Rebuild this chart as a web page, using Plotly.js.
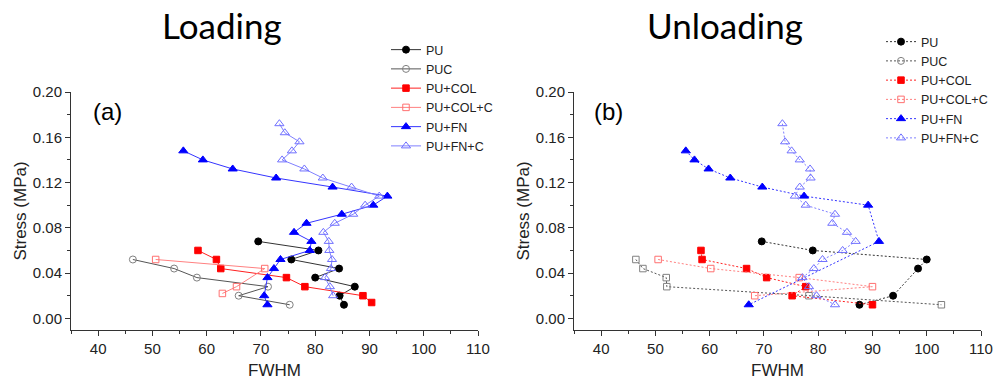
<!DOCTYPE html>
<html>
<head>
<meta charset="utf-8">
<script src="https://cdn.plot.ly/plotly-3.0.1.min.js"></script>
<style>html,body{margin:0;padding:0;background:#fff;}#chart{width:995px;height:384px;}</style>
</head>
<body>
<div id="chart"></div>
<script>
// ---------- Loading (a) ----------
var PU_L_x   = [69.5, 80.6, 75.6, 84.4, 80.0, 87.3, 84.5, 85.3];
var PU_L_y   = [0.068, 0.060, 0.052, 0.044, 0.036, 0.028, 0.020, 0.012];
var PUC_L_x  = [46.4, 54.0, 58.2, 71.3, 65.9, 75.3];
var PUC_L_y  = [0.052, 0.044, 0.036, 0.028, 0.020, 0.012];
var COL_L_x  = [58.4, 61.8, 62.6, 74.7, 78.1, 88.8, 90.4];
var COL_L_y  = [0.060, 0.052, 0.044, 0.036, 0.028, 0.020, 0.014];
var COLC_L_x = [50.6, 70.7, 65.5, 62.9];
var COLC_L_y = [0.052, 0.044, 0.028, 0.022];
var FN_L_x   = [55.7, 59.3, 64.8, 72.8, 83.2, 93.3, 90.7, 84.9, 78.4, 76.1, 79.3, 79.0, 73.6, 72.4, 71.2, 70.6, 71.2];
var FN_L_y   = [0.148, 0.140, 0.132, 0.124, 0.116, 0.108, 0.100, 0.092, 0.084, 0.076, 0.068, 0.060, 0.052, 0.044, 0.036, 0.020, 0.012];
var FNC_L_x  = [73.4, 74.4, 77.1, 75.7, 73.9, 78.0, 81.4, 86.7, 91.8, 89.2, 87.0, 83.6, 81.5, 82.5, 82.6, 83.1, 82.9, 81.8, 82.7, 83.3];
var FNC_L_y  = [0.172, 0.164, 0.156, 0.148, 0.140, 0.132, 0.124, 0.116, 0.108, 0.100, 0.092, 0.084, 0.076, 0.068, 0.060, 0.052, 0.044, 0.036, 0.028, 0.020];

// ---------- Unloading (b) ----------
var PU_U_x   = [69.6, 79.0, 100.0, 98.4, 93.8, 87.6];
var PU_U_y   = [0.068, 0.060, 0.052, 0.044, 0.020, 0.012];
var PUC_U_x  = [46.4, 47.7, 52.0, 52.1, 78.3, 102.7];
var PUC_U_y  = [0.052, 0.044, 0.036, 0.028, 0.020, 0.012];
var COL_U_x  = [58.4, 58.6, 66.8, 70.5, 77.7, 75.2, 90.0];
var COL_U_y  = [0.060, 0.052, 0.044, 0.036, 0.028, 0.020, 0.012];
var COLC_U_x = [50.5, 60.2, 76.5, 90.0, 68.3];
var COLC_U_y = [0.052, 0.044, 0.036, 0.028, 0.020];
var FN_U_x   = [55.6, 57.2, 59.8, 63.8, 69.7, 77.4, 89.2, 91.2, 67.2];
var FN_U_y   = [0.148, 0.140, 0.132, 0.124, 0.116, 0.108, 0.100, 0.068, 0.012];
var FNC_U_x  = [73.4, 73.9, 75.1, 76.6, 78.5, 78.6, 76.6, 75.7, 77.7, 83.1, 82.6, 85.3, 86.9, 84.5, 80.8, 79.2, 77.1, 78.3, 79.7, 83.1];
var FNC_U_y  = [0.172, 0.156, 0.148, 0.140, 0.132, 0.124, 0.116, 0.108, 0.100, 0.092, 0.084, 0.076, 0.068, 0.060, 0.052, 0.044, 0.036, 0.028, 0.020, 0.012];

var seriesNames = ['PU', 'PUC', 'PU+COL', 'PU+COL+C', 'PU+FN', 'PU+FN+C'];
var panelTitles = ['Loading', 'Unloading'];
var panelLabels = ['(a)', '(b)'];
var xTickVals = [40, 50, 60, 70, 80, 90, 100, 110];
var yTickVals = [0.00, 0.04, 0.08, 0.12, 0.16, 0.20];

var styles = [
  {mc: '#000000', lc: '#333333', sym: 'circle', size: 7},
  {mc: '#808080', lc: '#555555', sym: 'circle-open', size: 7},
  {mc: '#ff0000', lc: '#ff2020', sym: 'square', size: 6.5},
  {mc: '#ff7070', lc: '#ff8080', sym: 'square-open', size: 6.5},
  {mc: '#0000ff', lc: '#3535ff', sym: 'triangle-up', size: 8},
  {mc: '#7070ff', lc: '#8080ff', sym: 'triangle-up-open', size: 8}
];

function mk(x, y, i, panel, opt) {
  opt = opt || {};
  var s = styles[i];
  var sym = opt.sym || s.sym;
  return {
    type: 'scatter', mode: 'lines+markers',
    x: x, y: y, name: seriesNames[i],
    xaxis: panel === 0 ? 'x' : 'x2',
    yaxis: panel === 0 ? 'y' : 'y2',
    legend: panel === 0 ? 'legend' : 'legend2',
    showlegend: opt.showlegend !== undefined ? opt.showlegend : true,
    line: {color: s.lc, width: 1, dash: panel === 0 ? 'solid' : '2px,2px'},
    marker: {color: s.mc, symbol: sym, size: opt.size || s.size, line: {color: s.mc, width: 1}},
    hoverinfo: 'x+y+name'
  };
}

var data = [
  mk(PU_L_x, PU_L_y, 0, 0),
  mk(PUC_L_x, PUC_L_y, 1, 0),
  mk(COL_L_x, COL_L_y, 2, 0),
  mk(COLC_L_x, COLC_L_y, 3, 0),
  mk(FN_L_x, FN_L_y, 4, 0),
  mk(FNC_L_x, FNC_L_y, 5, 0),

  mk(PU_U_x, PU_U_y, 0, 1),
  mk(PUC_U_x, PUC_U_y, 1, 1, {sym: 'square-open', size: 6.5, showlegend: false}),
  mk([null], [null], 1, 1), // legend entry (reference legend shows an open circle)
  mk(COL_U_x, COL_U_y, 2, 1),
  mk(COLC_U_x, COLC_U_y, 3, 1),
  mk(FN_U_x, FN_U_y, 4, 1),
  mk(FNC_U_x, FNC_U_y, 5, 1)
];

var ML = 71, MR = 14, MT = 92, MB = 54;
var W = 995, H = 384;
var PW = W - ML - MR, PH = H - MT - MB;
function px(x) { return (x - ML) / PW; }
function py(y) { return (H - MB - y) / PH; }

var font = 'Arial, "Liberation Sans", sans-serif';
function xax(dom, anchor) {
  return {
    domain: dom, anchor: anchor, range: [35, 110],
    tickmode: 'array', tickvals: xTickVals,
    ticks: 'outside', ticklen: 5, tickwidth: 1, tickcolor: '#333',
    showline: true, linecolor: '#333', linewidth: 1,
    showgrid: false, zeroline: false,
    minor: {dtick: 5, tick0: 35, ticks: 'outside', ticklen: 3, tickwidth: 1, tickcolor: '#333', showgrid: false},
    tickfont: {family: font, size: 15, color: '#222'},
    title: {text: 'FWHM', font: {family: font, size: 17, color: '#222'}, standoff: 8}
  };
}
function yax(anchor) {
  return {
    domain: [0, 1], anchor: anchor, range: [-0.0103, 0.2],
    tickmode: 'array', tickvals: yTickVals, tickformat: '.2f',
    ticks: 'outside', ticklen: 5, tickwidth: 1, tickcolor: '#333',
    showline: true, linecolor: '#333', linewidth: 1,
    showgrid: false, zeroline: false,
    minor: {dtick: 0.02, tick0: 0, ticks: 'outside', ticklen: 3, tickwidth: 1, tickcolor: '#333', showgrid: false},
    tickfont: {family: font, size: 15, color: '#222'},
    title: {text: 'Stress (MPa)', font: {family: font, size: 17, color: '#222'}, standoff: 1}
  };
}

var legFont = {family: font, size: 12.5, color: '#222'};
var layout = {
  width: W, height: H,
  margin: {l: ML, r: MR, t: MT, b: MB, pad: 0, autoexpand: false},
  paper_bgcolor: '#fff', plot_bgcolor: '#fff',
  showlegend: true,
  xaxis: xax([0, 407 / PW], 'y'),
  yaxis: yax('x'),
  xaxis2: xax([(574 - ML) / PW, 1], 'y2'),
  yaxis2: yax('x2'),
  legend: {x: px(386), y: py(35), xanchor: 'left', yanchor: 'top', font: legFont, bgcolor: 'rgba(0,0,0,0)', itemwidth: 30, tracegroupgap: 0},
  legend2: {x: px(881), y: py(27), xanchor: 'left', yanchor: 'top', font: legFont, bgcolor: 'rgba(0,0,0,0)', itemwidth: 30, tracegroupgap: 0},
  annotations: [
    {text: panelTitles[0], xref: 'paper', yref: 'paper', x: px(222), y: py(25), xanchor: 'center', yanchor: 'middle', showarrow: false, font: {family: 'Lato, "Open Sans", sans-serif', size: 35, color: '#000'}},
    {text: panelTitles[1], xref: 'paper', yref: 'paper', x: px(725), y: py(25), xanchor: 'center', yanchor: 'middle', showarrow: false, font: {family: 'Lato, "Open Sans", sans-serif', size: 35, color: '#000'}},
    {text: panelLabels[0], xref: 'paper', yref: 'paper', x: px(107), y: py(111), xanchor: 'center', yanchor: 'middle', showarrow: false, font: {family: font, size: 24, color: '#000'}},
    {text: panelLabels[1], xref: 'paper', yref: 'paper', x: px(608), y: py(111), xanchor: 'center', yanchor: 'middle', showarrow: false, font: {family: font, size: 24, color: '#000'}}
  ]
};

Plotly.newPlot('chart', data, layout, {staticPlot: true, displayModeBar: false});
</script>
</body>
</html>
